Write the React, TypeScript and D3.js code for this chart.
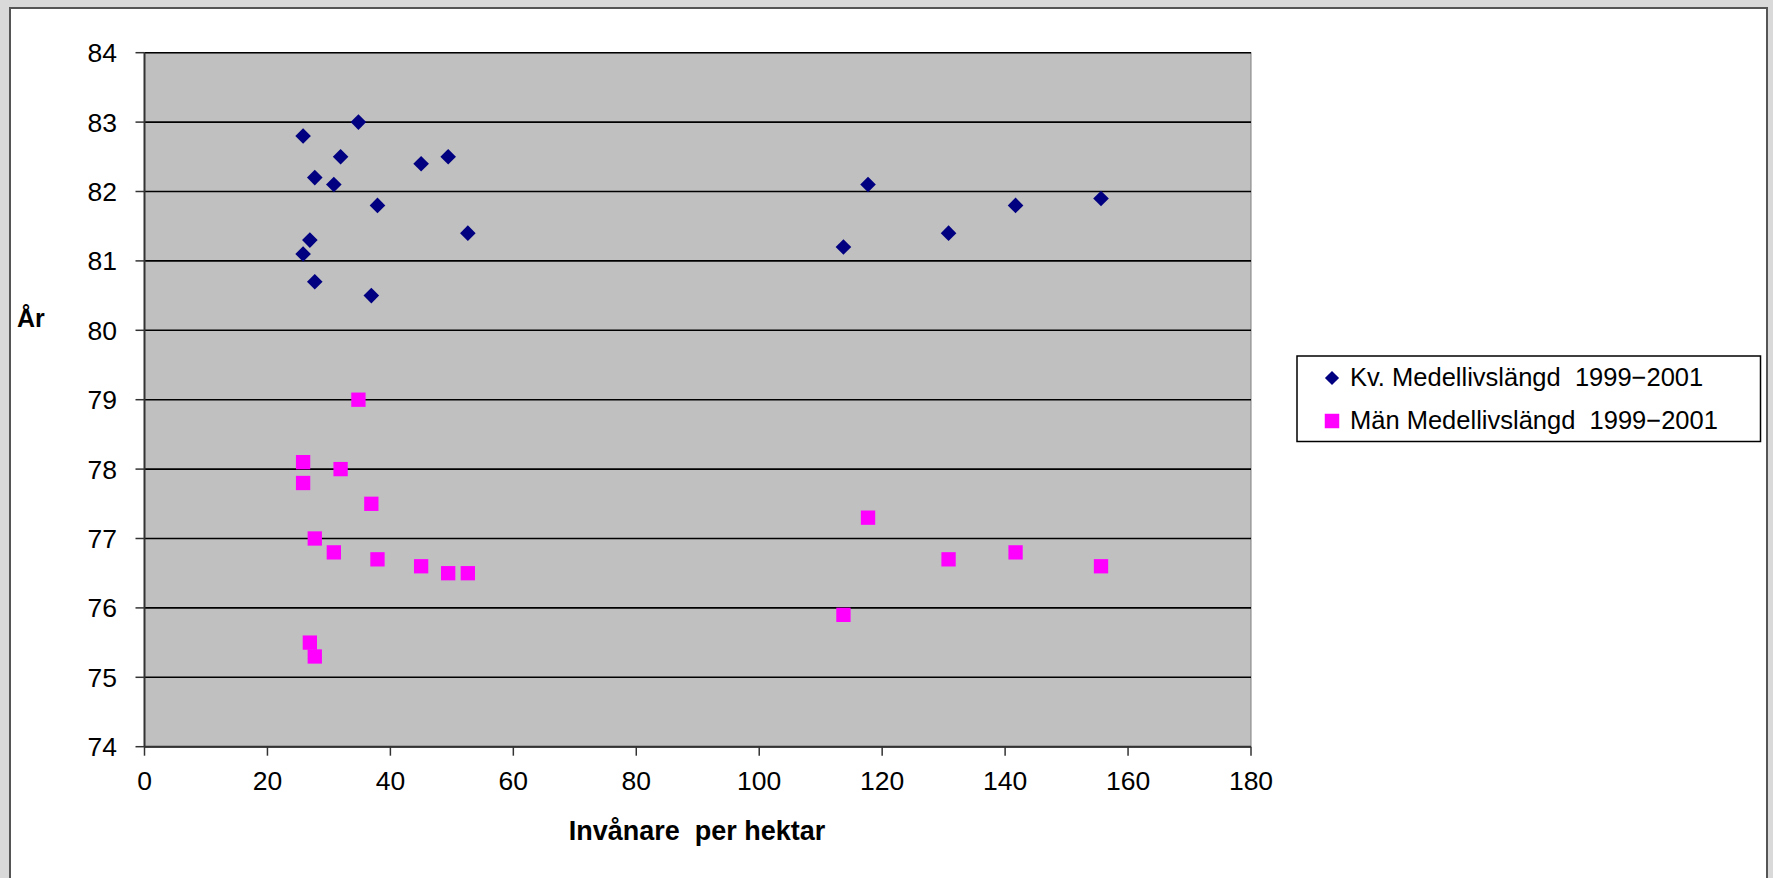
import React from "react";
import * as d3 from "d3";

const density = [25.8, 25.8, 26.9, 27.7, 27.7, 30.8, 31.9, 34.8, 36.9, 37.9, 45.0, 49.4, 52.6, 113.7, 117.7, 130.8, 141.7, 155.6];
const women = [82.8, 81.1, 81.3, 82.2, 80.7, 82.1, 82.5, 83.0, 80.5, 81.8, 82.4, 82.5, 81.4, 81.2, 82.1, 81.4, 81.8, 81.9];
const men = [78.1, 77.8, 75.5, 77.0, 75.3, 76.8, 78.0, 79.0, 77.5, 76.7, 76.6, 76.5, 76.5, 75.9, 77.3, 76.7, 76.8, 76.6];
const xTicks = [0, 20, 40, 60, 80, 100, 120, 140, 160, 180];
const yTicks = [74, 75, 76, 77, 78, 79, 80, 81, 82, 83, 84];
const seriesNames = ["Kv. Medellivslängd  1999\u22122001", "Män Medellivslängd  1999\u22122001"];
const xTitle = "Invånare  per hektar";
const yTitle = "År";

const W = 1773;
const H = 878;
const P = { left: 144.5, right: 1251, top: 52.7, bottom: 746.7 };
const FONT = "'Liberation Sans', Arial, sans-serif";

export default function App() {
  const x = d3.scaleLinear().domain([0, 180]).range([P.left, P.right]);
  const y = d3.scaleLinear().domain([74, 84]).range([P.bottom, P.top]);
  const diamond = d3.symbol().type(d3.symbolSquare).size(122)() as string;
  const square = d3.symbol().type(d3.symbolSquare).size(205)() as string;
  const legDiamond = d3.symbol().type(d3.symbolSquare).size(100)() as string;
  const legSquare = d3.symbol().type(d3.symbolSquare).size(210)() as string;

  return (
    <svg
      width={W}
      height={H}
      style={{ position: "absolute", left: 0, top: 0, display: "block" }}
      fontFamily={FONT}
    >
      <rect x={0} y={0} width={W} height={H} fill="#d9d9d9" />
      <rect x={10} y={8} width={1757} height={H} fill="#ffffff" stroke="#555" strokeWidth={2} />

      {/* plot area */}
      <rect x={P.left} y={P.top} width={P.right - P.left} height={P.bottom - P.top} fill="#c0c0c0" stroke="#808080" strokeWidth={1} />

      {/* gridlines */}
      {yTicks.map((t) => (
        <line key={"g" + t} x1={P.left} x2={P.right} y1={y(t)} y2={y(t)} stroke="#000" strokeWidth={1.6} />
      ))}

      {/* axes */}
      <line x1={P.left} x2={P.left} y1={P.top} y2={P.bottom} stroke="#333" strokeWidth={2} />
      <line x1={P.left} x2={P.right} y1={P.bottom} y2={P.bottom} stroke="#333" strokeWidth={2} />

      {yTicks.map((t) => (
        <g key={"y" + t}>
          <line x1={P.left - 9} x2={P.left} y1={y(t)} y2={y(t)} stroke="#333" strokeWidth={1.5} />
          <text x={117} y={y(t)} dy="0.36em" textAnchor="end" fontSize={26.5} fill="#000">
            {t}
          </text>
        </g>
      ))}
      {xTicks.map((t) => (
        <g key={"x" + t}>
          <line x1={x(t)} x2={x(t)} y1={P.bottom} y2={P.bottom + 9} stroke="#333" strokeWidth={1.5} />
          <text x={x(t)} y={790} textAnchor="middle" fontSize={26.5} fill="#000">
            {t}
          </text>
        </g>
      ))}

      <text x={697} y={840} textAnchor="middle" fontSize={27} fontWeight="bold" style={{ whiteSpace: "pre" }}>
        {xTitle}
      </text>
      <text x={17} y={327} fontSize={25} fontWeight="bold">
        {yTitle}
      </text>

      {/* women */}
      {density.map((d, i) => (
        <path key={"w" + i} d={diamond} transform={`translate(${x(d)},${y(women[i])}) rotate(45)`} fill="#000080" />
      ))}
      {/* men */}
      {density.map((d, i) => (
        <path key={"m" + i} d={square} transform={`translate(${x(d)},${y(men[i])})`} fill="#ff00ff" />
      ))}

      {/* legend */}
      <rect x={1297} y={356} width={463.5} height={85.5} fill="#fff" stroke="#000" strokeWidth={1.5} />
      <path d={legDiamond} transform="translate(1332,378) rotate(45)" fill="#000080" />
      <path d={legSquare} transform="translate(1332,421)" fill="#ff00ff" />
      <text x={1350} y={386} fontSize={25.5} style={{ whiteSpace: "pre" }}>
        {seriesNames[0]}
      </text>
      <text x={1350} y={429} fontSize={25.5} style={{ whiteSpace: "pre" }}>
        {seriesNames[1]}
      </text>
    </svg>
  );
}
